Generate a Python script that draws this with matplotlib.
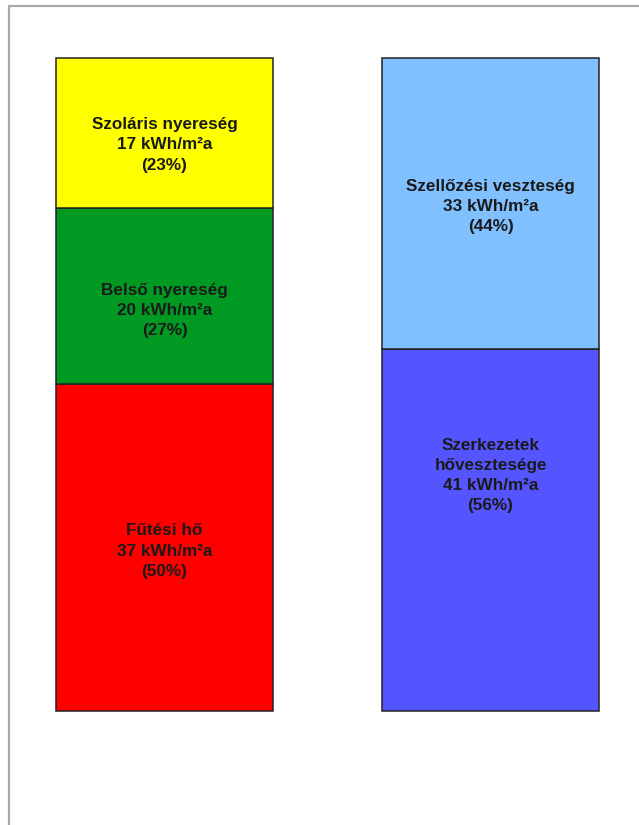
import matplotlib.pyplot as plt
import matplotlib.patches as patches

# energy balance, kWh/m2a
bars = [0, 1]
gains = ["Fűtési hő", "Belső nyereség", "Szoláris nyereség"]
gain_vals = [37, 20, 17]
gain_pct = [50, 27, 23]
losses = ["Szerkezetek\nhővesztesége", "Szellőzési veszteség"]
loss_vals = [41, 33]
loss_pct = [56, 44]

gain_colors = ["#FF0000", "#009A22", "#FFFF00"]
loss_colors = ["#5555FF", "#80C0FF"]
# where the label sits inside each block (fraction from top)
gain_textpos = [0.51, 0.58, 0.58]
loss_textpos = [0.35, 0.51]

plt.rcParams['font.family'] = ['Liberation Sans', 'DejaVu Sans']

fig = plt.figure(figsize=(6.39, 8.25), dpi=100)
ax = fig.add_axes([0, 0, 1, 1])
ax.set_xlim(-0.5046, 1.4555)
ax.set_ylim(-12.92, 80.57)
ax.axis('off')

width = 0.668


def stack(x, names, vals, pcts, colors, tpos):
    bottom = 0
    for name, v, p, c, t in zip(names, vals, pcts, colors, tpos):
        ax.bar(x, v, width=width, bottom=bottom, color=c, edgecolor='#222222', linewidth=1.1)
        ty = bottom + v * (1 - t)
        ax.text(x, ty, f"{name}\n{v} kWh/m²a\n({p}%)", ha='center', va='center',
                fontsize=12.3, fontweight='bold', color='#1a1a1a', linespacing=1.42)
        bottom += v


stack(bars[0], gains, gain_vals, gain_pct, gain_colors, gain_textpos)
stack(bars[1], losses, loss_vals, loss_pct, loss_colors, loss_textpos)

# page frame
fig.patches.append(patches.Rectangle((8.5 / 639, -0.1), 1.2, 1.1 - 6.5 / 825,
                                     transform=fig.transFigure, fill=False,
                                     edgecolor='#A8A8A8', linewidth=1.6))

fig.savefig("out.png", dpi=100)
